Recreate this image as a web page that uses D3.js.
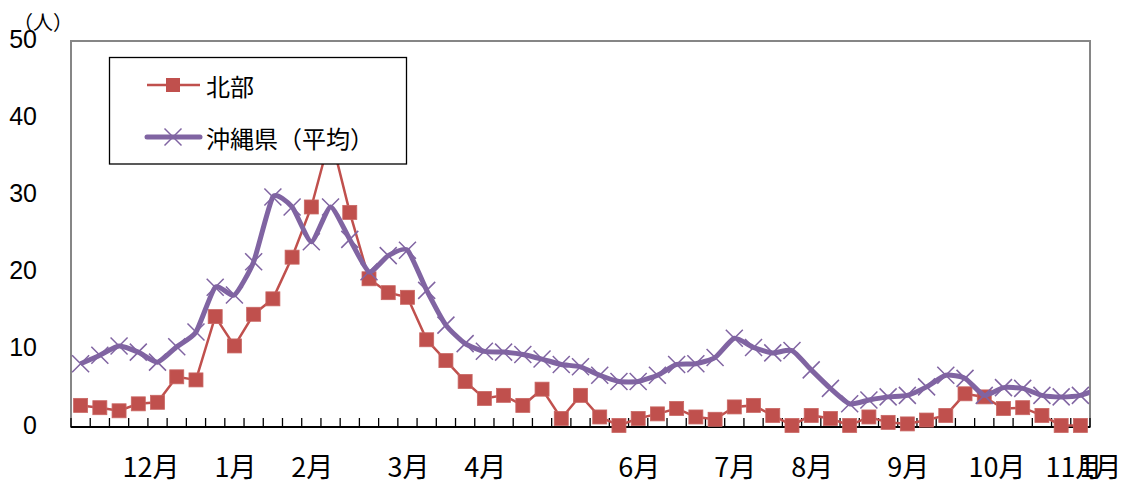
<!DOCTYPE html>
<html>
<head>
<meta charset="utf-8">
<script src="https://cdn.jsdelivr.net/npm/d3@7"></script>
<style>
  body { margin: 0; background: #fff; }
  text { font-family: "Noto Sans CJK JP", sans-serif; }
</style>
</head>
<body>
<svg id="chart" width="1122" height="484"></svg>
<script>
// weekly values
const northValues = [2.8, 2.5, 2.1, 3.0, 3.2, 6.5, 6.1, 14.3, 10.5, 14.6, 16.6, 22.0, 28.5, 37.8,
  27.8, 19.2, 17.4, 16.8, 11.3, 8.6, 5.9, 3.7, 4.1, 2.8, 4.9, 1.1, 4.1, 1.3, 0.2, 1.1, 1.7, 2.4,
  1.3, 1.0, 2.6, 2.8, 1.5, 0.2, 1.5, 1.1, 0.2, 1.3, 0.6, 0.4, 0.9, 1.5, 4.3, 3.9, 2.4, 2.5, 1.5, 0.2, 0.2];
const okinawaValues = [8.2, 9.3, 10.5, 9.7, 8.4, 10.4, 12.3, 18.1, 17.1, 21.4, 29.8, 28.5, 24.0, 28.5,
  24.3, 20.1, 22.2, 22.9, 17.7, 13.2, 10.8, 9.8, 9.7, 9.4, 8.8, 8.1, 7.8, 6.7, 5.9, 5.9, 6.7, 8.1,
  8.2, 9.0, 11.5, 10.3, 9.6, 9.9, 7.4, 5.0, 3.0, 3.5, 3.9, 4.1, 5.2, 6.7, 6.3, 4.1, 5.1, 5.0, 4.1, 3.9, 4.1, 5.0];
const weekCount = 53;
const labelWeeks = [4, 8, 12, 17, 21, 29, 34, 38, 43, 48, 52, 53];
const labelTexts = ["12月", "1月", "2月", "3月", "4月", "6月", "7月", "8月", "9月", "10月", "11月", "1月"];
const yTicks = [0, 10, 20, 30, 40, 50];
const seriesNames = ["北部", "沖縄県（平均）"];
const unitLabel = "（人）";

const red = "#C0504D", purple = "#8064A2";
const plotLeft = 71, plotRight = 1090, plotTop = 41, plotBottom = 427;

const svg = d3.select("#chart");

const x = d3.scaleLinear().domain([0, weekCount]).range([plotLeft, plotRight]);
const y = d3.scaleLinear().domain([0, 50]).range([plotBottom, plotTop]);
const cx = i => x(i + 0.5);

// plot frame
svg.append("rect")
  .attr("x", plotLeft).attr("y", plotTop)
  .attr("width", plotRight - plotLeft).attr("height", plotBottom - plotTop)
  .attr("fill", "none").attr("stroke", "#868686").attr("stroke-width", 2);

// y axis labels
svg.append("g").selectAll("text").data(yTicks).join("text")
  .attr("x", 37).attr("y", d => y(d))
  .attr("text-anchor", "end").attr("dominant-baseline", "middle")
  .style("font-family", "'Liberation Sans', Arial, sans-serif")
  .style("font-size", "25px")
  .text(d => d);

svg.append("text")
  .attr("x", 43).attr("y", 30)
  .attr("text-anchor", "middle")
  .style("font-size", "20px")
  .text(unitLabel);

// bottom axis with inner ticks
const xAxis = svg.append("g");
xAxis.append("line")
  .attr("x1", plotLeft).attr("x2", plotRight).attr("y1", plotBottom).attr("y2", plotBottom)
  .attr("stroke", "#000").attr("stroke-width", 2);
xAxis.selectAll("line.tick").data(d3.range(weekCount + 1)).join("line")
  .attr("class", "tick")
  .attr("x1", d => x(d)).attr("x2", d => x(d))
  .attr("y1", plotBottom).attr("y2", plotBottom - 9)
  .attr("stroke", "#000").attr("stroke-width", 1.3);

svg.append("g").selectAll("text").data(labelWeeks).join("text")
  .attr("x", d => cx(d) + 22).attr("y", 477)
  .attr("text-anchor", "end")
  .style("font-size", "27px")
  .text((d, i) => labelTexts[i]);

// series, clipped at the plot's right edge
svg.append("clipPath").attr("id", "plotClip")
  .append("rect").attr("x", 0).attr("y", 0).attr("width", plotRight).attr("height", 484);
const plot = svg.append("g").attr("clip-path", "url(#plotClip)");

const redLine = d3.line().x((d, i) => cx(i)).y(d => y(d));
plot.append("path")
  .attr("d", redLine(northValues))
  .attr("fill", "none").attr("stroke", red).attr("stroke-width", 2.5);
plot.append("g").selectAll("rect").data(northValues).join("rect")
  .attr("x", (d, i) => cx(i) - 7).attr("y", d => y(d) - 7)
  .attr("width", 14).attr("height", 14)
  .attr("fill", red).attr("stroke", "#c96663").attr("stroke-width", 0.8);

const purpleLine = d3.line().x((d, i) => cx(i)).y(d => y(d)).curve(d3.curveCardinal.tension(0.45));
plot.append("path")
  .attr("d", purpleLine(okinawaValues))
  .attr("fill", "none").attr("stroke", purple).attr("stroke-width", 5)
  .attr("stroke-linejoin", "round");

function cross(sel, s) {
  sel.attr("d", `M${-s},${-s}L${s},${s}M${-s},${s}L${s},${-s}`)
    .attr("fill", "none").attr("stroke", purple).attr("stroke-width", 1.5);
}
plot.append("g").selectAll("path").data(okinawaValues).join("path")
  .attr("transform", (d, i) => `translate(${cx(i)},${y(d)})`)
  .call(cross, 8.5);

// legend
const legend = svg.append("g");
legend.append("rect")
  .attr("x", 109.5).attr("y", 57.5).attr("width", 297).attr("height", 106.5)
  .attr("fill", "#fff").attr("stroke", "#000").attr("stroke-width", 1.3);
legend.append("line").attr("x1", 147).attr("x2", 200).attr("y1", 85).attr("y2", 85)
  .attr("stroke", red).attr("stroke-width", 2.5);
legend.append("rect").attr("x", 166).attr("y", 78).attr("width", 14).attr("height", 14).attr("fill", red);
legend.append("line").attr("x1", 147).attr("x2", 200).attr("y1", 137).attr("y2", 137)
  .attr("stroke", purple).attr("stroke-width", 5).attr("stroke-linecap", "round");
legend.append("path").attr("transform", "translate(173,137)").call(cross, 8.5);
legend.selectAll("text.name").data(seriesNames).join("text")
  .attr("class", "name")
  .attr("x", 206).attr("y", (d, i) => 85 + i * 52)
  .attr("dominant-baseline", "central")
  .style("font-size", "24px")
  .text(d => d);
</script>
</body>
</html>
